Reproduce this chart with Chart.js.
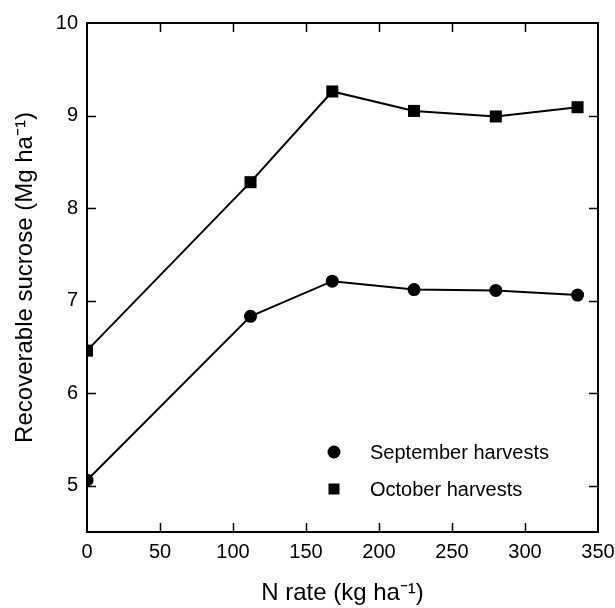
<!DOCTYPE html>
<html>
<head>
<meta charset="utf-8">
<script src="https://cdn.jsdelivr.net/npm/chart.js@4/dist/chart.umd.min.js"></script>
<style>
  html, body { margin: 0; padding: 0; background: #fff; }
  #wrap { width: 615px; height: 608px; position: relative; }
</style>
</head>
<body>
<div id="wrap"><canvas id="c" width="615" height="608"></canvas></div>
<script>
// ---- data ----
const nRates = [0, 112, 168, 224, 280, 336];
const septemberHarvests = [5.06, 6.83, 7.21, 7.12, 7.11, 7.06];
const octoberHarvests = [6.46, 8.28, 9.26, 9.05, 8.99, 9.09];
const xTicks = [0, 50, 100, 150, 200, 250, 300, 350];
const yTicks = [5, 6, 7, 8, 9, 10];
const seriesLabels = ['September harvests', 'October harvests'];
const xTitle = 'N rate (kg ha\u207B\u00B9)';
const yTitle = 'Recoverable sucrose (Mg ha\u207B\u00B9)';

const FONT = "'Liberation Sans', Arial, Helvetica, sans-serif";

function toPoints(xs, ys) { return xs.map((x, i) => ({ x: x, y: ys[i] })); }

// inward ticks + top/right frame + in-plot legend
const framePlugin = {
  id: 'frameTicks',
  afterDraw(chart) {
    const { ctx, chartArea: a, scales } = chart;
    const xs = scales.x, ys = scales.y;
    const L = 9;
    ctx.save();
    ctx.strokeStyle = '#000';
    ctx.lineWidth = 2;
    ctx.beginPath();
    ctx.moveTo(a.left, a.top); ctx.lineTo(a.right, a.top); ctx.lineTo(a.right, a.bottom);
    ctx.stroke();
    ctx.lineWidth = 1.5;
    ctx.beginPath();
    xTicks.forEach(v => {
      if (v === xs.min || v === xs.max) return;
      const px = Math.round(xs.getPixelForValue(v)) + 0.5;
      ctx.moveTo(px, a.bottom); ctx.lineTo(px, a.bottom - L);
      ctx.moveTo(px, a.top); ctx.lineTo(px, a.top + L);
    });
    yTicks.forEach(v => {
      if (v === ys.min || v === ys.max) return;
      const py = Math.round(ys.getPixelForValue(v)) + 0.5;
      ctx.moveTo(a.left, py); ctx.lineTo(a.left + L, py);
      ctx.moveTo(a.right, py); ctx.lineTo(a.right - L, py);
    });
    ctx.stroke();

    // legend
    const lx = a.left + 247, ly0 = a.top + 429, dy = 37;
    ctx.fillStyle = '#000';
    ctx.font = '20px ' + FONT;
    ctx.textBaseline = 'middle';
    ctx.textAlign = 'left';
    chart.data.datasets.forEach((ds, i) => {
      const y = ly0 + i * dy;
      ctx.beginPath();
      if (ds.pointStyle === 'rect') {
        ctx.rect(lx - 5.5, y - 5.5, 11, 11);
      } else {
        ctx.arc(lx, y, 6.5, 0, Math.PI * 2);
      }
      ctx.fill();
      ctx.fillText(ds.label, lx + 36, y + 1);
    });
    ctx.restore();
  }
};

new Chart(document.getElementById('c'), {
  type: 'line',
  data: {
    datasets: [
      {
        label: seriesLabels[0],
        data: toPoints(nRates, septemberHarvests),
        borderColor: '#000', backgroundColor: '#000', borderWidth: 2,
        pointStyle: 'circle', pointRadius: 6.5, pointHoverRadius: 6.5,
        pointBackgroundColor: '#000', pointBorderColor: '#000', pointBorderWidth: 0,
        tension: 0, fill: false
      },
      {
        label: seriesLabels[1],
        data: toPoints(nRates, octoberHarvests),
        borderColor: '#000', backgroundColor: '#000', borderWidth: 2,
        pointStyle: 'rect', pointRadius: 8.5, pointHoverRadius: 8.5,
        pointBackgroundColor: '#000', pointBorderColor: '#000', pointBorderWidth: 0,
        tension: 0, fill: false
      }
    ]
  },
  options: {
    responsive: false,
    animation: false,
    devicePixelRatio: 1,
    layout: { padding: { left: 11, right: 17, top: 23, bottom: 0 } },
    plugins: { legend: { display: false }, tooltip: { enabled: false } },
    scales: {
      x: {
        type: 'linear', position: 'bottom', min: 0, max: 350,
        afterBuildTicks(s) { s.ticks = xTicks.map(v => ({ value: v })); },
        afterFit(s) { s.height = 76; s.paddingLeft = 0; s.paddingRight = 0; },
        grid: { display: false, drawTicks: false },
        border: { display: true, color: '#000', width: 2 },
        ticks: { color: '#000', font: { family: FONT, size: 20 }, padding: 8, maxRotation: 0, autoSkip: false },
        title: { display: true, text: xTitle, color: '#000', font: { family: FONT, size: 24 }, padding: 0 }
      },
      y: {
        type: 'linear', position: 'left', min: 4.5, max: 10,
        afterBuildTicks(s) { s.ticks = yTicks.map(v => ({ value: v })); },
        afterFit(s) { s.width = 76; s.paddingTop = 0; s.paddingBottom = 0; },
        grid: { display: false, drawTicks: false },
        border: { display: true, color: '#000', width: 2 },
        ticks: { color: '#000', font: { family: FONT, size: 20 }, padding: 9, autoSkip: false },
        title: { display: true, text: yTitle, color: '#000', font: { family: FONT, size: 24 }, padding: 0 }
      }
    }
  },
  plugins: [framePlugin]
});
</script>
</body>
</html>
